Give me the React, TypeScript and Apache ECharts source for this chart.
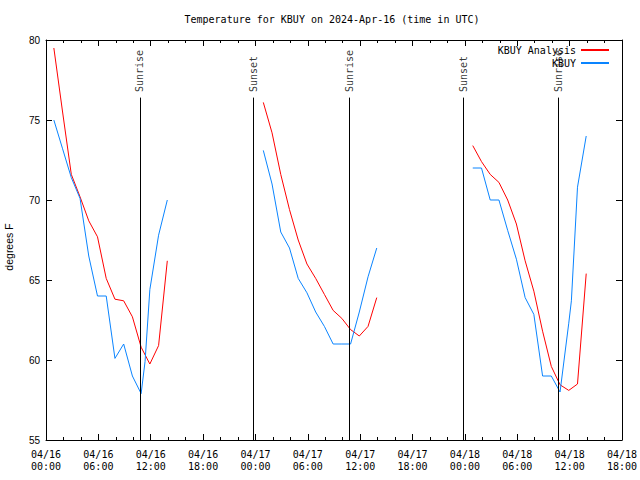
import React, { useEffect, useRef } from 'react';
import * as echarts from 'echarts';

// Observation times in hours since 2024-04-16 00:00 UTC
const analysisHours1 = [0.9, 1.9, 2.9, 3.9, 4.9, 5.9, 6.9, 7.9, 8.9, 9.9, 10.9, 11.9, 12.9, 13.9];
const analysis1 = [79.5, 75.5, 71.6, 70.2, 68.7, 67.7, 65.1, 63.8, 63.7, 62.7, 60.8, 59.75, 60.9, 66.2];
const kbuyHours1 = [0.9, 1.9, 2.9, 3.9, 4.9, 5.9, 6.9, 7.9, 8.9, 9.9, 10.9, 11.35, 11.9, 12.9, 13.9];
const kbuy1 = [75.0, 73.2, 71.4, 70.1, 66.5, 64.0, 64.0, 60.1, 61.0, 59.0, 57.9, 59.9, 64.4, 67.8, 70.0];

const analysisHours2 = [24.9, 25.9, 26.9, 27.9, 28.9, 29.9, 30.9, 31.9, 32.9, 33.9, 34.9, 35.9, 36.9, 37.9];
const analysis2 = [76.1, 74.2, 71.6, 69.4, 67.5, 66.0, 65.1, 64.1, 63.1, 62.6, 61.9, 61.5, 62.1, 63.9];
const kbuyHours2 = [24.9, 25.9, 26.9, 27.9, 28.9, 29.9, 30.9, 31.9, 32.9, 33.9, 34.9, 35.9, 36.9, 37.9];
const kbuy2 = [73.1, 71.0, 68.0, 67.0, 65.1, 64.2, 63.0, 62.1, 61.0, 61.0, 61.0, 63.0, 65.2, 67.0];

const analysisHours3 = [48.9, 49.9, 50.9, 51.9, 52.9, 53.9, 54.9, 55.9, 56.9, 57.9, 58.9, 59.9, 60.9, 61.9];
const analysis3 = [73.4, 72.4, 71.6, 71.1, 70.0, 68.5, 66.2, 64.3, 61.8, 59.6, 58.45, 58.1, 58.5, 65.4];
const kbuyHours3 = [48.9, 49.9, 50.9, 51.9, 52.9, 53.9, 54.9, 55.9, 56.9, 57.9, 58.9, 59.9, 60.2, 60.9, 61.9];
const kbuy3 = [72.0, 72.0, 70.0, 70.0, 68.1, 66.3, 63.9, 62.85, 59.0, 59.0, 58.0, 62.3, 63.7, 70.8, 74.0];

const sunEventHours = [10.77, 23.75, 34.75, 47.82, 58.7];
const sunEventNames = ['Sunrise', 'Sunset', 'Sunrise', 'Sunset', 'Sunrise'];

const titleText = 'Temperature for KBUY on 2024-Apr-16 (time in UTC)';
const yTitle = 'degrees F';

const MONO = 'DejaVu Sans Mono';
const SANS = 'Liberation Sans';
const RED = '#ff0000';
const BLUE = '#0a84ff';

const zip = (xs: number[], ys: number[]) => xs.map((x, i) => [x, ys[i]]);

const lineSeries = (name: string, color: string, xs: number[], ys: number[]) => ({
  type: 'line',
  name,
  data: zip(xs, ys),
  symbol: 'none',
  showSymbol: false,
  silent: true,
  lineStyle: { color, width: 1 },
  itemStyle: { color },
  z: 3,
});

const xFormatter = (v: number) => {
  const day = 16 + Math.floor(v / 24);
  const hh = v % 24;
  return `04/${day}\n${String(hh).padStart(2, '0')}:00`;
};

const tickCommon = {
  axisLine: { show: true, onZero: false, lineStyle: { color: '#000', width: 1 } },
  axisTick: { show: true, inside: true, length: 6, lineStyle: { color: '#000', width: 1 } },
  splitLine: { show: false },
};

export default function App() {
  const ref = useRef<HTMLDivElement>(null);
  useEffect(() => {
    const chart = echarts.init(ref.current!, null, { renderer: 'svg' });
    const option: any = {
      animation: false,
      backgroundColor: '#fff',
      title: {
        text: titleText,
        left: 332,
        top: 14,
        padding: 0,
        textAlign: 'center',
        textStyle: { fontFamily: MONO, fontSize: 10, fontWeight: 'normal', color: '#000' },
      },
      legend: {
        data: ['KBUY Analysis', 'KBUY'],
        orient: 'vertical',
        right: 30,
        top: 44,
        padding: 0,
        align: 'right',
        itemWidth: 28,
        itemHeight: 12,
        itemGap: 1,
        itemStyle: { opacity: 0, borderWidth: 0 },
        textStyle: { fontFamily: MONO, fontSize: 10, color: '#000', lineHeight: 12 },
      },
      grid: { left: 46, right: 18, top: 40, bottom: 40, containLabel: false, outerBoundsMode: 'none' },
      xAxis: [
        {
          type: 'value',
          min: 0,
          max: 66,
          interval: 6,
          position: 'bottom',
          ...tickCommon,
          minorTick: { show: true, splitNumber: 3, length: 3, lineStyle: { color: '#000', width: 1 } },
          axisLabel: { formatter: xFormatter, fontFamily: MONO, fontSize: 10, color: '#000', lineHeight: 12, margin: 8 },
        },
        {
          type: 'value',
          min: 0,
          max: 66,
          interval: 6,
          position: 'top',
          ...tickCommon,
          minorTick: { show: true, splitNumber: 3, length: 3, lineStyle: { color: '#000', width: 1 } },
          axisLabel: { show: false },
        },
      ],
      yAxis: [
        {
          type: 'value',
          min: 55,
          max: 80,
          interval: 5,
          position: 'left',
          ...tickCommon,
          name: yTitle,
          nameLocation: 'middle',
          nameGap: 32,
          nameTextStyle: { fontFamily: SANS, fontSize: 10.5, color: '#000', padding: [0, 14, 0, 0] },
          axisLabel: { fontFamily: SANS, fontSize: 10, color: '#000', margin: 6 },
        },
        {
          type: 'value',
          min: 55,
          max: 80,
          interval: 5,
          position: 'right',
          ...tickCommon,
          axisLabel: { show: false },
        },
      ],
      series: [
        lineSeries('KBUY Analysis', RED, analysisHours1, analysis1),
        lineSeries('KBUY Analysis', RED, analysisHours2, analysis2),
        lineSeries('KBUY Analysis', RED, analysisHours3, analysis3),
        lineSeries('KBUY', BLUE, kbuyHours1, kbuy1),
        lineSeries('KBUY', BLUE, kbuyHours2, kbuy2),
        lineSeries('KBUY', BLUE, kbuyHours3, kbuy3),
        {
          type: 'scatter',
          name: 'events',
          silent: true,
          symbolSize: 0,
          itemStyle: { color: 'rgba(0,0,0,0)' },
          data: sunEventHours.map((t, i) => [t, 76.75, sunEventNames[i]]),
          label: {
            show: true,
            formatter: (p: any) => p.data[2],
            position: 'inside',
            rotate: 90,
            align: 'left',
            verticalAlign: 'middle',
            fontFamily: MONO,
            fontSize: 10,
            color: '#000',
          },
          markLine: {
            silent: true,
            symbol: 'none',
            label: { show: false },
            lineStyle: { color: '#000', width: 1, type: 'solid' },
            data: sunEventHours.map((t) => [{ coord: [t, 55] }, { coord: [t, 76.4] }]),
          },
          z: 2,
        },
      ],
    };
    chart.setOption(option);
    return () => chart.dispose();
  }, []);
  return (
    <div
      ref={ref}
      style={{ position: 'fixed', left: 0, top: 0, width: 640, height: 480, background: '#fff' }}
    />
  );
}
